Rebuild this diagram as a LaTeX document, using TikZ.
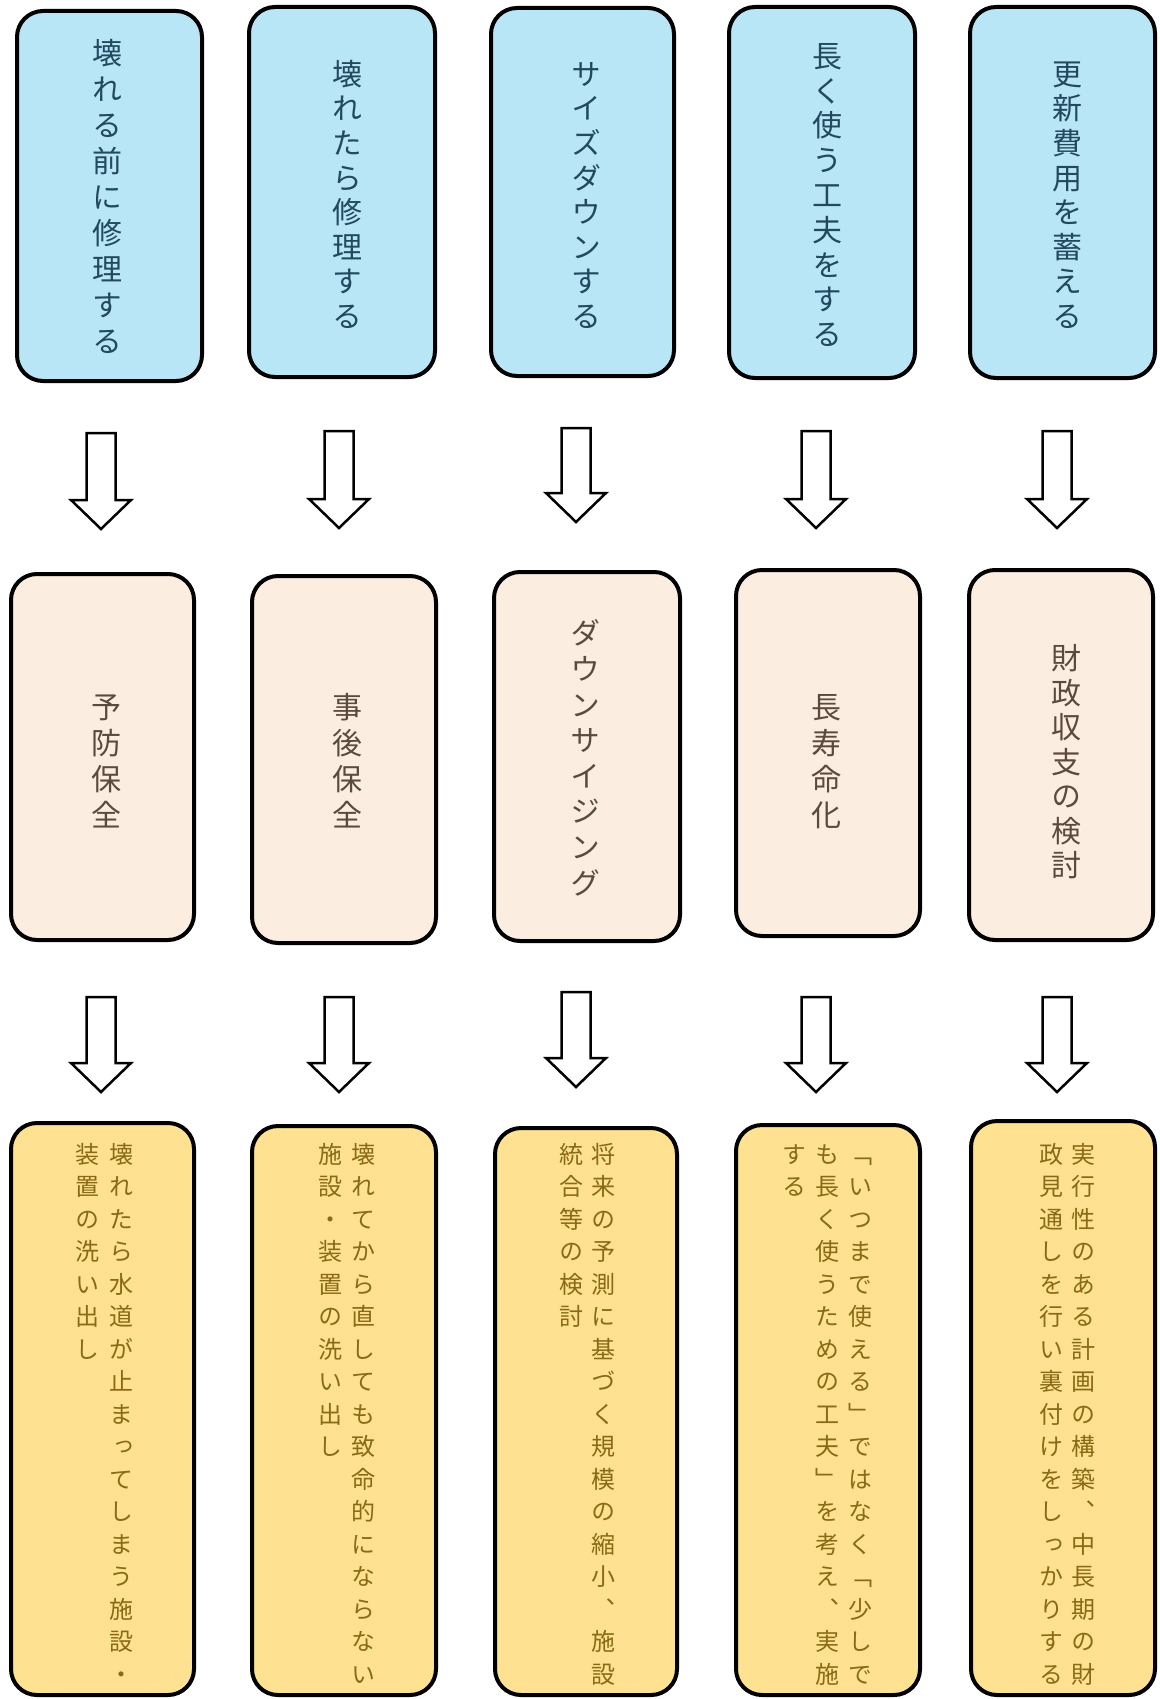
\documentclass[tikz,border=0pt]{standalone}
\usepackage{fontspec}
\newfontfamily\vjp[RawFeature=+vert]{Noto Sans CJK JP}
\usetikzlibrary{calc}
\definecolor{topfill}{HTML}{B9E6F7}
\definecolor{midfill}{HTML}{FBEDE0}
\definecolor{botfill}{HTML}{FFE192}
\definecolor{toptext}{HTML}{23495F}
\definecolor{midtext}{HTML}{5B4B3E}
\definecolor{bottext}{HTML}{8A6A16}
\makeatletter
\newcommand\vstack[2]{\vbox{\baselineskip=#1\lineskiplimit=-1000pt\lineskip=0pt\relax\vst@loop#2\relax}}
\def\vst@loop#1{\ifx\relax#1\else\hbox to 1.2em{\hss\rule[-0.12em]{0pt}{1em}#1\hss}\expandafter\vst@loop\fi}
\makeatother
\newcommand\blockarrow[4]{%
  \coordinate (#1) at (#2,#3);
  \draw[blockarr] (#2-14.5,#3) -- (#2+14.5,#3) -- (#2+14.5,#4-29) -- (#2+30,#4-29) -- (#2,#4) -- (#2-30,#4-29) -- (#2-14.5,#4-29) -- cycle;}
\begin{document}
\begin{tikzpicture}[x=1pt,y=-1pt,
  boxbase/.style={draw=black, line width=4pt, rounded corners=26pt, inner sep=0pt},
  topbox/.style={boxbase, fill=topfill},
  midbox/.style={boxbase, fill=midfill},
  botbox/.style={boxbase, fill=botfill},
  toptxt/.style={inner sep=0pt, text=toptext, font=\vjp\fontsize{30}{36}\selectfont},
  midtxt/.style={inner sep=0pt, text=midtext, font=\vjp\fontsize{30}{36}\selectfont},
  bottxt/.style={inner sep=0pt, anchor=north, text=bottext, font=\vjp\fontsize{24}{32}\selectfont},
  blockarr/.style={draw=black, fill=white, line width=2.5pt, line join=miter}]
\fill[white] (0,0) rectangle (1159,1699);
\useasboundingbox (0,0) rectangle (1159,1699);
% top boxes
\node[topbox, minimum width=185pt, minimum height=370pt] (t1) at (109.5,196) {};
\node[topbox, minimum width=186pt, minimum height=370pt] (t2) at (342,192) {};
\node[topbox, minimum width=183pt, minimum height=368pt] (t3) at (582.5,192) {};
\node[topbox, minimum width=186pt, minimum height=371pt] (t4) at (822,192.5) {};
\node[topbox, minimum width=185pt, minimum height=371pt] (t5) at (1062.5,192.5) {};
\node[toptxt] (tt1) at (107,197) {\vstack{36pt}{壊れる前に修理する}};
\node[toptxt] (tt2) at (347,195) {\vstack{34.6pt}{壊れたら修理する}};
\node[toptxt] (tt3) at (586,195) {\vstack{34.6pt}{サイズダウンする}};
\node[toptxt] (tt4) at (827,195) {\vstack{34.8pt}{長く使う工夫をする}};
\node[toptxt] (tt5) at (1067,195) {\vstack{34.6pt}{更新費用を蓄える}};
% middle boxes
\node[midbox, minimum width=183pt, minimum height=366pt] (m1) at (102.5,757) {};
\node[midbox, minimum width=184pt, minimum height=367pt] (m2) at (344,759.5) {};
\node[midbox, minimum width=186pt, minimum height=369pt] (m3) at (587,756.5) {};
\node[midbox, minimum width=184pt, minimum height=366pt] (m4) at (828,753) {};
\node[midbox, minimum width=184pt, minimum height=370pt] (m5) at (1061,755) {};
\node[midtxt] (mt1) at (106,761) {\vstack{36pt}{予防保全}};
\node[midtxt] (mt2) at (347,761) {\vstack{36pt}{事後保全}};
\node[midtxt] (mt3) at (585,758) {\vstack{35.6pt}{ダウンサイジング}};
\node[midtxt] (mt4) at (826,761) {\vstack{36pt}{長寿命化}};
\node[midtxt] (mt5) at (1066,762) {\vstack{34.5pt}{財政収支の検討}};
% bottom boxes
\node[botbox, minimum width=183pt, minimum height=572pt] (b1) at (102.5,1409) {};
\node[botbox, minimum width=184pt, minimum height=569pt] (b2) at (344,1410.5) {};
\node[botbox, minimum width=182pt, minimum height=567pt] (b3) at (586,1411.5) {};
\node[botbox, minimum width=184pt, minimum height=570pt] (b4) at (828,1410) {};
\node[botbox, minimum width=184pt, minimum height=574pt] (b5) at (1063,1408) {};
\node[bottxt] (bt1a) at (121,1142) {\vstack{32.5pt}{壊れたら水道が止まってしまう施設・}};
\node[bottxt] (bt1b) at (87,1142) {\vstack{32.5pt}{装置の洗い出し}};
\node[bottxt] (bt2a) at (363,1142) {\vstack{32.5pt}{壊れてから直しても致命的にならない}};
\node[bottxt] (bt2b) at (330,1142) {\vstack{32.5pt}{施設・装置の洗い出し}};
\node[bottxt] (bt3a) at (603,1142) {\vstack{32.5pt}{将来の予測に基づく規模の縮小、施設}};
\node[bottxt] (bt3b) at (571,1142) {\vstack{32.5pt}{統合等の検討}};
\node[bottxt] (bt4a) at (860,1142) {\vstack{32.5pt}{「いつまで使える」ではなく「少しで}};
\node[bottxt] (bt4b) at (827,1142) {\vstack{32.5pt}{も長く使うための工夫」を考え、実施}};
\node[bottxt] (bt4c) at (794,1142) {\vstack{32.5pt}{する}};
\node[bottxt] (bt5a) at (1083,1142) {\vstack{32.5pt}{実行性のある計画の構築、中長期の財}};
\node[bottxt] (bt5b) at (1051,1142) {\vstack{32.5pt}{政見通しを行い裏付けをしっかりする}};
% arrows row 1
\blockarrow{a11}{101}{433}{529}
\blockarrow{a12}{339}{431}{528}
\blockarrow{a13}{576}{428}{522}
\blockarrow{a14}{816}{431}{528}
\blockarrow{a15}{1057}{431}{528}
% arrows row 2
\blockarrow{a21}{101}{997}{1092}
\blockarrow{a22}{339}{997}{1092}
\blockarrow{a23}{576}{992}{1087}
\blockarrow{a24}{816}{997}{1092}
\blockarrow{a25}{1057}{997}{1092}
\end{tikzpicture}
\end{document}
